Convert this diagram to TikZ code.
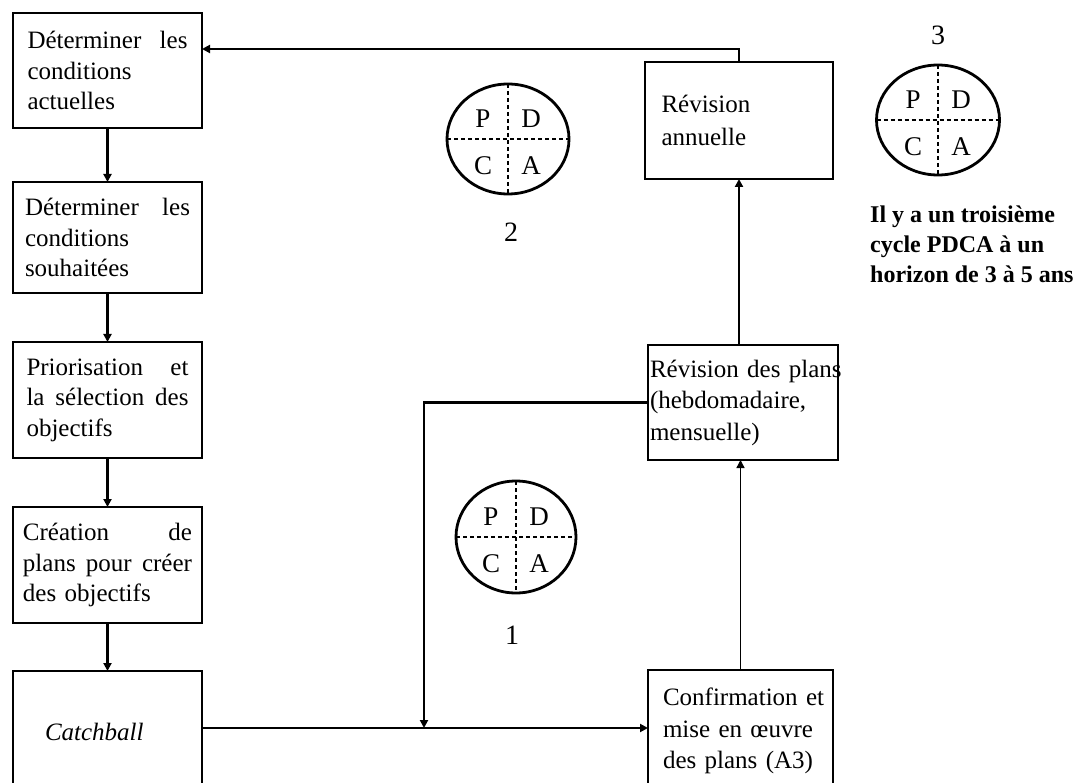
\documentclass[tikz,border=0pt]{standalone}
\usepackage{fontspec}
\setmainfont{Liberation Serif}
\usetikzlibrary{arrows.meta,shapes.geometric}
\newcommand\spr[2]{\leavevmode\hbox to #1{#2}}
\newcommand\ovl[2]{\leavevmode\hbox to #1{#2\hss}}
\begin{document}
\begin{tikzpicture}[x=1pt,y=-1pt,
  box/.style={draw, line width=2.8pt, inner sep=0pt, outer sep=0pt, align=left,
    font=\fontsize{25}{30.5}\selectfont},
  conn/.style={line width=2.2pt, -{Triangle[length=8pt,width=8pt]}},
  thinconn/.style={line width=1.3pt, -{Triangle[length=8pt,width=8pt]}},
  pdca/.style={draw, ellipse, line width=2.8pt, inner sep=0pt, outer sep=0pt},
  cross/.style={dashed, dash pattern=on 4pt off 3pt, line width=1.2pt},
  letter/.style={font=\fontsize{27}{27}\selectfont, inner sep=0pt},
  num/.style={font=\fontsize{28}{28}\selectfont, inner sep=0pt}
]
\useasboundingbox (0,0) rectangle (1076,783);
\clip (0,0) rectangle (1076,783);

% left column
\node[box, minimum width=189pt, minimum height=115pt, text width=160pt] (b1) at (107.5,70.5)
  {\spr{160pt}{Déterminer\hfill les}\\conditions\\actuelles};
\node[box, minimum width=189pt, minimum height=111pt, text width=165pt] (b2) at (107.5,237.5)
  {\spr{165pt}{Déterminer\hfill les}\\conditions\\souhaitées};
\node[box, minimum width=189pt, minimum height=116pt, text width=162pt] (b3) at (107.5,400)
  {\spr{162pt}{Priorisation\hfill et}\\\spr{162pt}{la\hfill sélection\hfill des}\\objectifs};
\node[box, minimum width=189pt, minimum height=116pt, text width=169pt] (b4) at (107.5,565)
  {\spr{169pt}{Création\hfill de}\\\spr{169pt}{plans\hfill pour\hfill créer}\\des objectifs};
\node[box, minimum width=189pt, minimum height=122pt, text width=125pt] (cb) at (107.5,732)
  {\itshape Catchball};

% right column
\node[box, minimum width=188pt, minimum height=117pt, text width=155pt,
  font=\fontsize{25}{33}\selectfont] (ra) at (739,120.5)
  {Révision\\annuelle};
\node[box, minimum width=190pt, minimum height=115pt, text width=186pt,
  font=\fontsize{25}{31.5}\selectfont] (rp) at (743,402.5)
  {\ovl{186pt}{Révision des plans}\\(hebdomadaire,\\mensuelle)};
\node[box, minimum width=185pt, minimum height=122pt, text width=155pt,
  font=\fontsize{25}{31.5}\selectfont] (cf) at (740.5,731)
  {\ovl{155pt}{Confirmation et}\\mise en œuvre\\\ovl{155pt}{des plans (A3)}};

% connectors
\draw[conn] (b1) -- (b2);
\draw[conn] (b2) -- (b3);
\draw[conn] (b3) -- (b4);
\draw[conn] (b4) -- (cb);
\coordinate (topy) at (0,49);
\draw[conn] (ra.north) |- (b1.east |- topy);
\draw[conn] (ra.south |- rp.north) -- (ra.south);
\draw[thinconn] (cf.north) -- (cf.north |- rp.south);
\coordinate (jn) at (424,728);
\draw[conn] (rp.west) -| (jn);
\draw[conn] (cb.east |- jn) -- (cf.west |- jn);

% PDCA circles
\foreach \n/\cx/\cy/\rx/\ry in {1/516/537/120/112, 2/508/139/122/110, 3/938/120/123/110}{
  \node[pdca, minimum width=\rx pt, minimum height=\ry pt] (p\n) at (\cx,\cy) {};
  \draw[cross] (p\n.north) -- (p\n.south);
  \draw[cross] (p\n.west) -- (p\n.east);
  \node[letter] (p\n P) at ([xshift=-25pt,yshift=20pt]p\n.center) {P};
  \node[letter] (p\n D) at ([xshift=23pt,yshift=20pt]p\n.center) {D};
  \node[letter] (p\n C) at ([xshift=-25pt,yshift=-27pt]p\n.center) {C};
  \node[letter] (p\n A) at ([xshift=23pt,yshift=-27pt]p\n.center) {A};
}
\node[num] (n1) at (512,635) {1};
\node[num] (n2) at (511,232) {2};
\node[num] (n3) at (938,35) {3};

\node[anchor=west, align=left, inner sep=0pt, font=\bfseries\fontsize{24}{30}\selectfont] (note) at (870,244)
  {Il y a un troisième\\cycle PDCA à un\\horizon de 3 à 5 ans};
\end{tikzpicture}
\end{document}
